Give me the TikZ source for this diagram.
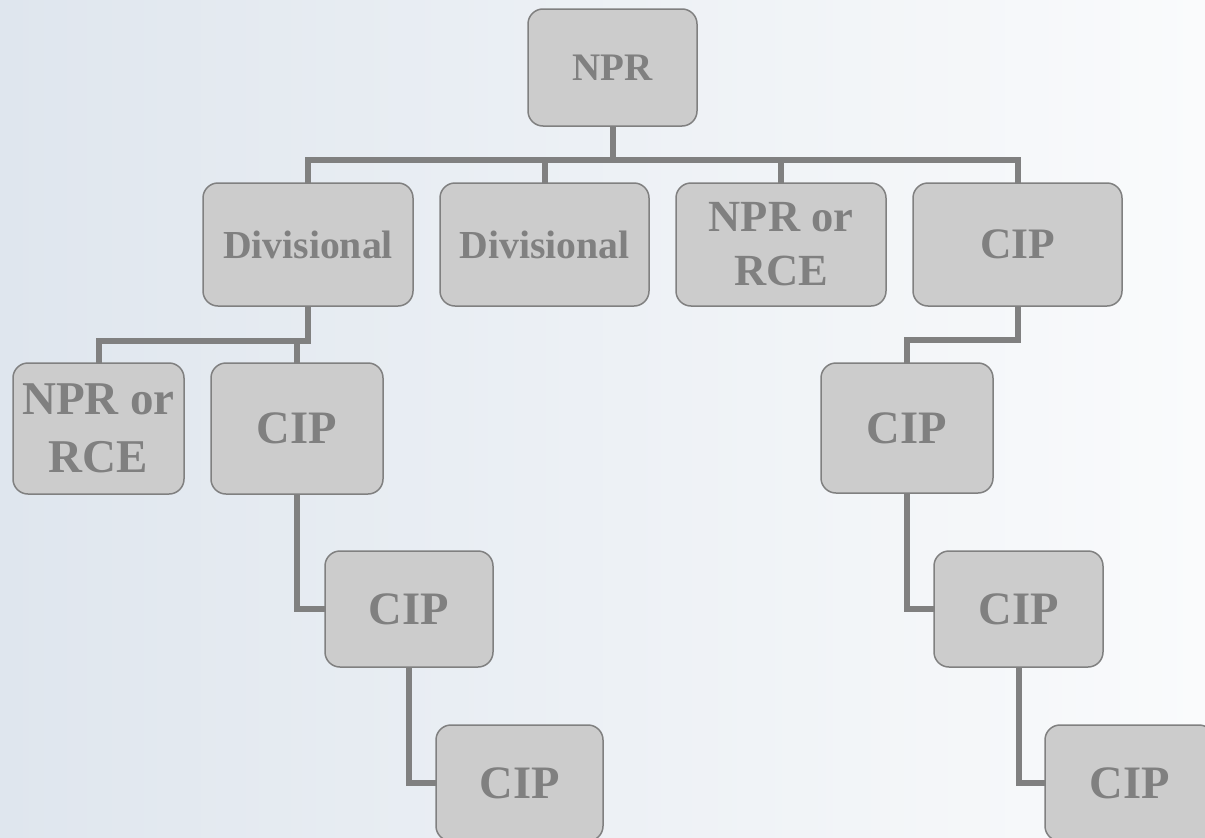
\documentclass[tikz,border=0pt]{standalone}
\usepackage{fontspec}
\setmainfont{Liberation Serif}
\definecolor{boxfill}{HTML}{CCCCCC}
\definecolor{boxline}{HTML}{808080}
\definecolor{txt}{HTML}{808080}
\definecolor{bgleft}{HTML}{DFE6EE}
\definecolor{bgright}{HTML}{FAFBFC}
\tikzset{
  orgbox/.style={draw=boxline, line width=1.5pt, fill=boxfill, rounded corners=15pt,
    inner sep=0pt, outer sep=0pt, text=txt, font=\bfseries, align=center},
  conn/.style={draw=boxline, line width=6pt, line join=miter},
  fs/.style args={#1/#2}{font=\fontsize{#1}{#2}\selectfont\bfseries}
}
\begin{document}
\begin{tikzpicture}[x=1pt,y=-1pt]
\useasboundingbox (0,0) rectangle (1205,838);
\clip (0,0) rectangle (1205,838);
\shade[left color=bgleft, right color=bgright] (0,0) rectangle (1205,838);

% nodes
\node[orgbox, minimum width=169pt, minimum height=117pt, fs=39/47] (npr) at (612.5,67.5) {NPR};
\node[orgbox, minimum width=210pt, minimum height=123pt, fs=39.7/48] (d1) at (308,244.5) {Divisional};
\node[orgbox, minimum width=209pt, minimum height=123pt, fs=39.7/48] (d2) at (544.5,244.5) {Divisional};
\node[orgbox, minimum width=210pt, minimum height=123pt, fs=44.5/54] (nr1) at (781,244.5) {NPR or\\RCE};
\node[orgbox, minimum width=209pt, minimum height=123pt, fs=43.5/52] (c1) at (1017.5,244.5) {CIP};
\node[orgbox, minimum width=171pt, minimum height=131pt, fs=47/58] (nr2) at (98.5,428.5) {NPR or\\RCE};
\node[orgbox, minimum width=172pt, minimum height=131pt, fs=46.5/56] (c2) at (297,428.5) {CIP};
\node[orgbox, minimum width=172pt, minimum height=130pt, fs=46.5/56] (c3) at (907,428) {CIP};
\node[orgbox, minimum width=168pt, minimum height=116pt, fs=46.5/56] (c4) at (409,609) {CIP};
\node[orgbox, minimum width=169pt, minimum height=116pt, fs=46.5/56] (c5) at (1018.5,609) {CIP};
\node[orgbox, minimum width=167pt, minimum height=116pt, fs=46.5/56] (c6) at (519.5,783) {CIP};
\node[orgbox, minimum width=169pt, minimum height=116pt, fs=46.5/56] (c7) at (1129.5,783) {CIP};

% bus coordinates
\coordinate (b0) at (612.5,160);
\coordinate (b1) at (308,341);
\coordinate (b2) at (1017.5,340);

% connectors
\draw[conn] (npr.south) -- (b0);
\draw[conn] (b0) -| (d1.north);
\draw[conn] (b0) -| (d2.north);
\draw[conn] (b0) -| (nr1.north);
\draw[conn] (b0) -| (c1.north);
\draw[conn] (d1.south) -- (b1) -| (nr2.north);
\draw[conn] (b1) -| (c2.north);
\draw[conn] (c1.south) -- (b2) -| (c3.north);
\draw[conn] (c2.south) |- (c4.west);
\draw[conn] (c4.south) |- (c6.west);
\draw[conn] (c3.south) |- (c5.west);
\draw[conn] (c5.south) |- (c7.west);
\end{tikzpicture}
\end{document}
